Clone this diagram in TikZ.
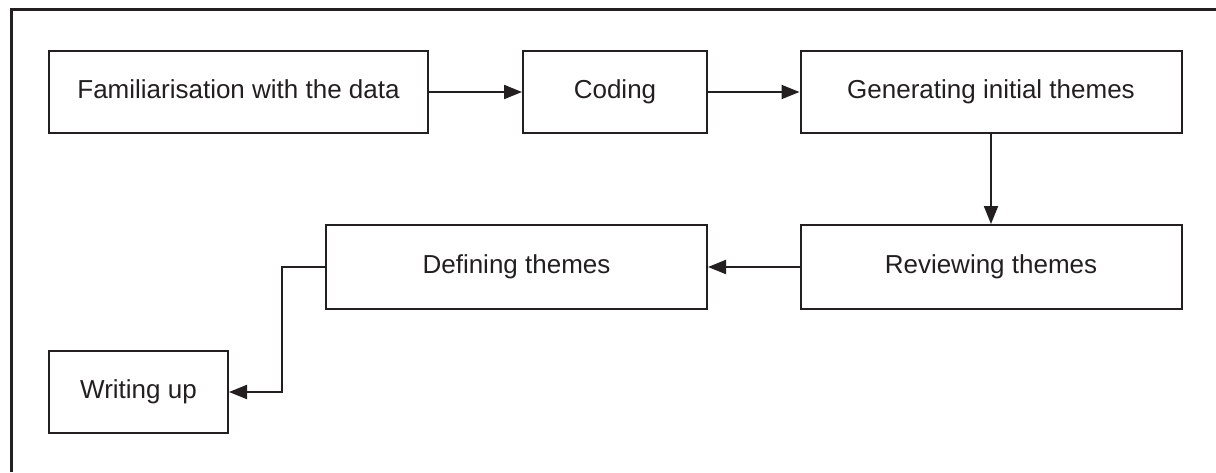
\documentclass[tikz,border=0pt]{standalone}
\usepackage{fontspec}
\setmainfont{Liberation Sans}
\usetikzlibrary{positioning,arrows.meta}
\definecolor{boxline}{RGB}{35,31,32}

\begin{document}
\begin{tikzpicture}
[
    x=0.5pt,y=-0.5pt,
    stagebox/.style={rectangle,draw=boxline,text=boxline,line width=1pt,minimum height=41pt,align=center,inner sep=0pt,text height=9.4pt,text depth=2.8pt,font=\fontsize{13}{15}\selectfont},
    wide/.style={stagebox,minimum width=190.5pt},
    flow/.style={draw=boxline,line width=1pt,-{Triangle[length=9pt,width=7pt]}}
]
\useasboundingbox (0,0) rectangle (1216,472);
\draw [boxline,line width=1.5pt] (11,472) -- (11,9) -- (1216,9);

\node at (238.5,92) [wide,minimum width=189.5pt] (fam) {Familiarisation with the data};
\node at (615,92) [stagebox,minimum width=92pt] (cod) {Coding};
\node at (991,92) [wide] (gen) {Generating initial themes};
\node at (991,267) [wide,minimum height=42pt] (rev) {Reviewing themes};
\node at (516.5,267) [wide,minimum height=42pt] (def) {Defining themes};
\node at (138.5,392) [stagebox,minimum width=89.5pt] (wri) {Writing up};

\draw [flow] (fam) -- (cod);
\draw [flow] (cod) -- (gen);
\draw [flow] (gen) -- (rev);
\draw [flow] (rev) -- (def);
\draw [flow] (def.west) -- ++(-43,0) |- (wri.east);

\end{tikzpicture}
\end{document}
